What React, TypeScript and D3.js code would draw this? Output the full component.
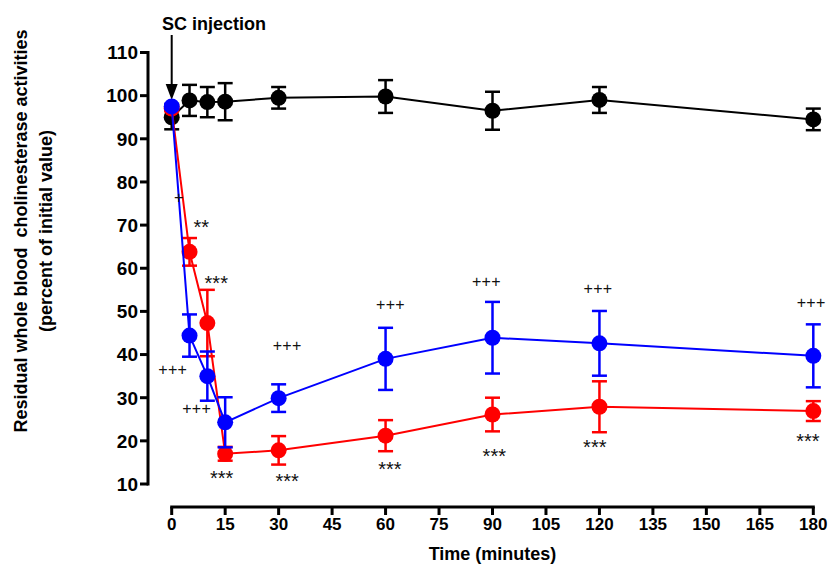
import React from "react";
import * as d3 from "d3";

const times = [0, 5, 10, 15, 30, 60, 90, 120, 180];
const controlMean = [95.0, 98.9, 98.5, 98.6, 99.5, 99.8, 96.5, 99.0, 94.5];
const controlErr = [2.8, 3.6, 3.5, 4.3, 2.5, 3.8, 4.4, 3.0, 2.5];
const redMean = [97.0, 63.8, 47.3, 17.0, 17.8, 21.2, 26.1, 27.9, 26.9];
const redErr = [0.6, 3.2, 7.7, 1.6, 3.3, 3.6, 3.9, 5.9, 2.3];
const blueMean = [97.5, 44.4, 35.0, 24.3, 29.9, 39.0, 43.9, 42.6, 39.7];
const blueErr = [0.6, 4.9, 5.7, 5.8, 3.2, 7.2, 8.3, 7.5, 7.3];

const xTicks = [0, 15, 30, 45, 60, 75, 90, 105, 120, 135, 150, 165, 180];
const yTicks = [10, 20, 30, 40, 50, 60, 70, 80, 90, 100, 110];

// annotation labels: text, time, value (visual centre)
const annText = ["+", "**", "***", "+++", "+++", "***", "***", "+++", "+++", "***", "+++", "***", "+++", "***", "+++", "***"];
const annTime = [2, 8.3, 12.5, 0.3, 7, 14, 32.4, 32.4, 61.4, 61.2, 88.3, 90.5, 119.6, 118.7, 179.4, 178.5];
const annValue = [76.3, 70.5, 57.5, 36.6, 27.6, 12.3, 11.6, 42.1, 51.7, 14.4, 57.0, 17.5, 55.4, 19.5, 52.0, 21.0];

const W = 831;
const H = 565;

export default function App() {
  const x = d3.scaleLinear().domain([0, 180]).range([171.7, 813.3]);
  const y = d3.scaleLinear().domain([10, 110]).range([484, 52.5]);

  const series = [
    { mean: controlMean, err: controlErr, color: "#000000" },
    { mean: redMean, err: redErr, color: "#ff0000" },
    { mean: blueMean, err: blueErr, color: "#0000ff" },
  ];

  const line = d3
    .line<number>()
    .x((_, i) => x(times[i]))
    .y((d) => y(d));

  const font = "'Liberation Sans', Arial, sans-serif";

  return (
    <svg
      width={W}
      height={H}
      style={{ position: "absolute", left: 0, top: 0, background: "#fff" }}
      fontFamily={font}
    >
      <rect x={0} y={0} width={W} height={H} fill="#fff" />
      {/* Y axis */}
      <line x1={148} x2={148} y1={y(110) - 1.5} y2={y(10) + 1.5} stroke="#000" strokeWidth={3} />
      {yTicks.map((t) => (
        <g key={"yt" + t}>
          <line x1={140} x2={148} y1={y(t)} y2={y(t)} stroke="#000" strokeWidth={3} />
          <text x={138} y={y(t)} dy="0.36em" textAnchor="end" fontSize={19} fontWeight="bold">
            {t}
          </text>
        </g>
      ))}
      {/* X axis */}
      <line x1={x(0) - 1.5} x2={x(180) + 1.5} y1={507} y2={507} stroke="#000" strokeWidth={3} />
      {xTicks.map((t) => (
        <g key={"xt" + t}>
          <line x1={x(t)} x2={x(t)} y1={507} y2={515} stroke="#000" strokeWidth={3} />
          <text x={x(t)} y={530} textAnchor="middle" fontSize={17} fontWeight="bold">
            {t}
          </text>
        </g>
      ))}
      <text x={(x(0) + x(180)) / 2} y={560} textAnchor="middle" fontSize={18} fontWeight="bold">
        Time (minutes)
      </text>
      {/* Y title */}
      <text
        transform={`translate(21,231) rotate(-90)`}
        textAnchor="middle"
        dy="0.36em"
        fontSize={18}
        fontWeight="bold"
        style={{ whiteSpace: "pre" }}
      >
        {"Residual whole blood  cholinesterase activities"}
      </text>
      <text
        transform={`translate(46,231) rotate(-90)`}
        textAnchor="middle"
        dy="0.36em"
        fontSize={18}
        fontWeight="bold"
      >
        (percent of initial value)
      </text>
      {/* SC injection */}
      <text x={162} y={30} fontSize={18} fontWeight="bold">
        SC injection
      </text>
      <line x1={x(0)} x2={x(0)} y1={35} y2={88} stroke="#000" strokeWidth={2} />
      <path
        d={`M${x(0) - 6},${84} L${x(0) + 6},${84} L${x(0)},${100} Z`}
        fill="#000"
      />
      {/* series */}
      {series.map((s, si) => (
        <g key={"s" + si}>
          <path d={line(s.mean) || ""} fill="none" stroke={s.color} strokeWidth={2} />
          {s.mean.map((m, i) => {
            const cx = x(times[i]);
            const top = y(m + s.err[i]);
            const bot = y(m - s.err[i]);
            return (
              <g key={"e" + i}>
                <line x1={cx} x2={cx} y1={top} y2={bot} stroke={s.color} strokeWidth={2.5} />
                <line x1={cx - 7.5} x2={cx + 7.5} y1={top} y2={top} stroke={s.color} strokeWidth={2.5} />
                <line x1={cx - 7.5} x2={cx + 7.5} y1={bot} y2={bot} stroke={s.color} strokeWidth={2.5} />
              </g>
            );
          })}
          {s.mean.map((m, i) => (
            <circle key={"c" + i} cx={x(times[i])} cy={y(m)} r={8} fill={s.color} />
          ))}
        </g>
      ))}
      {/* annotations */}
      {annText.map((t, i) => {
        const star = t.includes("*");
        return (
          <text
            key={"a" + i}
            x={x(annTime[i])}
            y={y(annValue[i]) + (star ? 11 : 5.5)}
            textAnchor="middle"
            fontSize={star ? 20 : 16}
            letterSpacing={star ? 0 : 0.3}
            fill="#111"
          >
            {t}
          </text>
        );
      })}
    </svg>
  );
}
